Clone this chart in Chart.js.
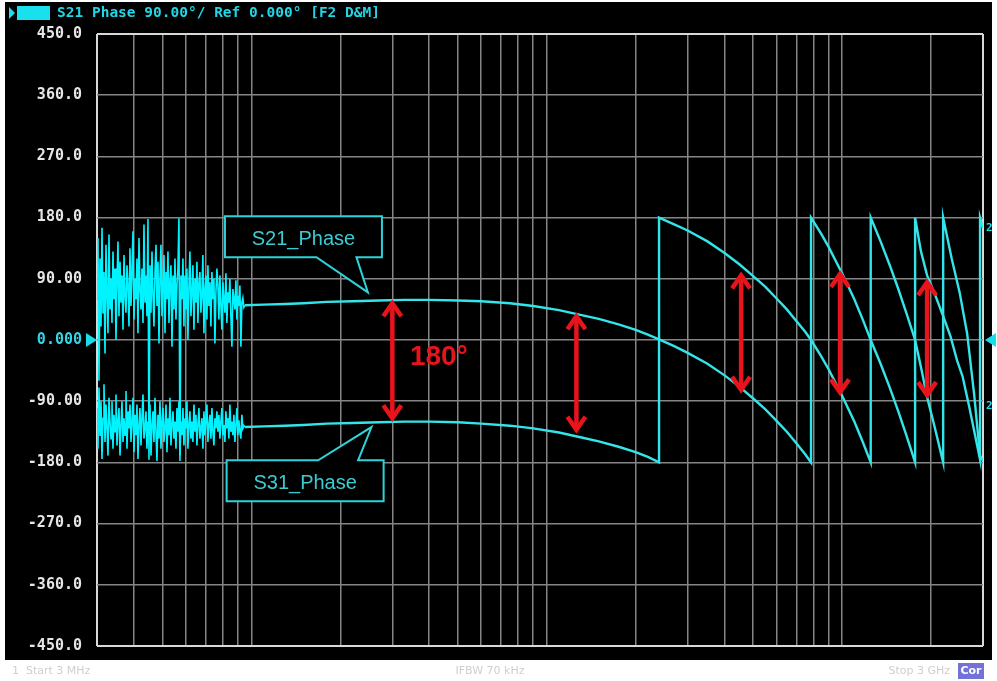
<!DOCTYPE html>
<html><head><meta charset="utf-8">
<script src="https://cdn.jsdelivr.net/npm/chart.js@4.4.1/dist/chart.umd.min.js"></script>
<style>html,body{margin:0;padding:0;background:#fff;overflow:hidden}
#wrap{position:absolute;left:0;top:0;width:997px;height:681px}</style>
</head><body><div id="wrap"><canvas id="c" width="997" height="681"></canvas></div>
<script>
// ---- data (frequency in MHz, phase in degrees) ----
const noiseFreq = [3.000,3.023,3.047,3.071,3.095,3.119,3.144,3.168,3.193,3.218,
  3.243,3.268,3.294,3.320,3.346,3.372,3.398,3.425,3.452,3.479,
  3.506,3.533,3.561,3.589,3.617,3.645,3.674,3.703,3.732,3.761,
  3.790,3.820,3.850,3.880,3.910,3.941,3.972,4.003,4.034,4.066,
  4.097,4.129,4.162,4.194,4.227,4.260,4.294,4.327,4.361,4.395,
  4.429,4.464,4.499,4.534,4.570,4.606,4.642,4.678,4.715,4.752,
  4.788,4.826,4.864,4.902,4.940,4.979,5.018,5.057,5.097,5.137,
  5.176,5.217,5.258,5.299,5.340,5.382,5.424,5.467,5.510,5.553,
  5.595,5.639,5.683,5.728,5.773,5.818,5.863,5.909,5.956,6.002,
  6.048,6.095,6.143,6.191,6.240,6.289,6.338,6.388,6.438,6.488,
  6.538,6.589,6.641,6.693,6.745,6.798,6.851,6.905,6.959,7.013,
  7.068,7.123,7.179,7.235,7.292,7.349,7.407,7.465,7.523,7.582,
  7.640,7.700,7.760,7.821,7.882,7.944,8.006,8.069,8.132,8.196,
  8.259,8.324,8.389,8.455,8.521,8.588,8.655,8.723,8.791,8.860,
  8.928,8.998,9.068,9.139,9.211,9.283,9.355,9.428];
const s21Noise = [60,150,-60,120,20,165,40,100,-20,140,70,10,155,45,
  90,25,130,60,105,0,85,145,35,115,55,95,15,125,65,40,110,80,20,135,
  50,100,160,30,90,60,120,10,150,75,45,105,25,170,55,95,35,
  178,-176,
  110,40,130,65,20,100,140,50,
  115,-5,90,140,35,75,125,10,100,60,130,25,85,110,-10,95,45,120,30,80,105,
  179,-178,95,
  60,120,20,95,45,105,0,80,130,35,70,110,15,90,55,115,25,85,100,40,
  65,125,10,75,95,30,110,50,85,20,100,60,90,-5,70,105,
  80,30,95,50,15,85,60,40,98,25,70,55,90,35,-10,75,60,45,88,30,65,50,80,-10,55,62,48];
const s31Noise = [-100,-160,-70,-140,-90,-175,-115,-65,-150,-95,-130,-170,-85,-120,
  -145,-90,-160,-110,-135,-80,-155,-120,-100,-170,-125,-90,-150,-115,-140,-75,-160,-105,-130,-95,
  -150,-120,-85,-165,-110,-140,-95,-175,-125,-100,-155,-115,-80,-145,-130,-105,-160,
  -120,-140,
  -95,-170,-125,-105,-150,-85,-135,-178,
  -110,-145,-90,-160,-120,-100,-150,-130,-95,-165,-115,-140,-85,-155,-125,-105,-145,-120,-160,-100,-135,
  -90,-170,-120,
  -140,-100,-155,-115,-130,-90,-160,-125,-105,-145,-120,-150,-95,-135,-110,-155,-125,-100,-145,-130,
  -115,-160,-105,-140,-120,-95,-150,-125,-110,-145,-100,-135,-155,-115,-130,-105,
  -135,-110,-145,-120,-100,-140,-125,-150,-105,-130,-115,-145,-95,-135,-120,-140,-110,-150,-125,-100,-140,-118,-135,-145,-110,-130,-126];
const s21Freq = [9.5,11,13,15,18,22,27,33,40,50,60,75,90,110,130,150,175,200,220,240,270,300,350,400,450,500,550,600,650,700,750,785,
  785,850,900,950,1000,1100,1175,1250,1350,1450,1550,1650,1767,
  1767,1850,1940,2050,2200,2330,2450,2560,2700,2820,2932,2932,3000];
const s21Phase = [51,52,53,54,56,57,58,59,59,58,57,54,50,44,37,31,23,15,8,1,-9,-19,-35,-52,-69,-86,-102,-119,-135,-152,-168,-180,
  180,156,137,117,98,60,30,0,-35,-70,-105,-140,-180,
  180,130,95,70,35,5,-30,-54,-100,-140,-176,180,165];
const s31Freq = [9.5,11,13,15,18,22,27,33,40,50,60,75,90,110,130,150,175,200,220,240,
  240,270,300,350,400,450,500,550,600,650,700,750,785,850,900,950,1000,1100,1175,1250,
  1250,1350,1450,1550,1650,1767,1850,1940,2050,2199,
  2199,2350,2500,2650,2800,2932,3000];
const s31Phase = [-128,-127,-126,-125,-123,-122,-121,-120,-120,-121,-123,-126,-130,-136,-143,-149,-157,-165,-172,-180,
  180,170,161,145,128,111,94,78,61,45,28,12,0,-24,-43,-63,-82,-120,-150,-180,
  180,145,110,75,40,0,-40,-84,-125,-180,
  180,120,70,10,-80,-170,-178];
const xGridFreqs = [3,4,5,6,7,8,9,10,20,30,40,50,60,70,80,90,100,200,300,400,500,600,700,800,900,1000,2000,3000];
const yTickValues = [-450,-360,-270,-180,-90,0,90,180,270,360,450];
const yTickLabels = ['-450.0','-360.0','-270.0','-180.0','-90.00','0.000','90.00','180.0','270.0','360.0','450.0'];
const arrowFreqs = [30,126,455,984,1940];
const arrowTops = [57,38,98,100,88];
const arrowBottoms = [-118,-135,-76,-80,-84];
const headerText = 'S21 Phase 90.00°/ Ref 0.000° [F2 D&M]';
const calloutLabels = ['S21_Phase','S31_Phase'];
const calloutBoxFreq = [15,15.2];
const calloutBoxPhase = [152,-207];
const calloutTipFreq = [24.8,25.5];
const calloutTipPhase = [70,-128];
const diffLabel = '180°';
const footerTexts = ['1  Start 3 MHz','IFBW 70 kHz','Stop 3 GHz','Cor'];

const CYAN = '#33e4e8';
const toPts = (xs, ys) => xs.map((x, i) => ({x: x, y: ys[i]}));

const deco = {
  id: 'deco',
  beforeDraw(chart) {
    const c = chart.ctx;
    c.save();
    c.fillStyle = '#ffffff'; c.fillRect(0, 0, 997, 681);
    c.fillStyle = '#000000'; c.fillRect(5, 2, 987, 658);
    // header
    c.fillStyle = '#19e0ec';
    c.beginPath(); c.moveTo(9, 7); c.lineTo(9, 19); c.lineTo(15, 13); c.closePath(); c.fill();
    c.fillRect(17, 6, 33, 14);
    c.font = 'bold 14.5px "DejaVu Sans Mono"';
    c.textBaseline = 'middle'; c.textAlign = 'left';
    c.fillStyle = '#22d6e6';
    c.fillText(headerText, 57, 13);
    // footer
    c.font = '11px "DejaVu Sans"';
    c.fillStyle = '#cfcfcf';
    c.textAlign = 'left'; c.fillText(footerTexts[0], 12, 671);
    c.textAlign = 'center'; c.fillText(footerTexts[1], 490, 671);
    c.textAlign = 'right'; c.fillText(footerTexts[2], 950, 671);
    c.fillStyle = '#7272d8'; c.fillRect(958, 663, 26, 16);
    c.fillStyle = '#ffffff'; c.textAlign = 'center'; c.font = 'bold 11px "DejaVu Sans"';
    c.fillText(footerTexts[3], 971, 671);
    c.restore();
  },
  afterDatasetsDraw(chart) {
    const c = chart.ctx, xs = chart.scales.x, ys = chart.scales.y, ca = chart.chartArea;
    c.save();
    // reference markers
    const y0 = ys.getPixelForValue(0);
    c.fillStyle = '#19dcea';
    c.beginPath(); c.moveTo(ca.left - 11, y0 - 7); c.lineTo(ca.left - 11, y0 + 7); c.lineTo(ca.left, y0); c.closePath(); c.fill();
    c.beginPath(); c.moveTo(ca.right + 13, y0 - 7); c.lineTo(ca.right + 13, y0 + 7); c.lineTo(ca.right + 2, y0); c.closePath(); c.fill();
    c.font = 'bold 11px "DejaVu Sans Mono"'; c.textAlign = 'left'; c.textBaseline = 'middle';
    c.fillText('2', ca.right + 3, ys.getPixelForValue(165));
    c.fillText('2', ca.right + 3, ys.getPixelForValue(-97));
    // callouts
    for (let i = 0; i < calloutLabels.length; i++) {
      const cx = xs.getPixelForValue(calloutBoxFreq[i]), cy = ys.getPixelForValue(calloutBoxPhase[i]);
      const w = 157, h = 41, l = cx - w / 2, t = cy - h / 2;
      const tx = xs.getPixelForValue(calloutTipFreq[i]), ty = ys.getPixelForValue(calloutTipPhase[i]);
      c.beginPath();
      if (ty > cy) {
        c.moveTo(l, t); c.lineTo(l + w, t); c.lineTo(l + w, t + h);
        c.lineTo(cx + 53, t + h); c.lineTo(tx, ty); c.lineTo(cx + 13, t + h);
        c.lineTo(l, t + h); c.closePath();
      } else {
        c.moveTo(l, t + h); c.lineTo(l + w, t + h); c.lineTo(l + w, t);
        c.lineTo(cx + 53, t); c.lineTo(tx, ty); c.lineTo(cx + 13, t);
        c.lineTo(l, t); c.closePath();
      }
      c.fillStyle = '#000'; c.fill();
      c.strokeStyle = '#2ed3da'; c.lineWidth = 2; c.lineJoin = 'miter'; c.stroke();
      c.fillStyle = '#3ccbd3'; c.font = '20px "Liberation Sans"';
      c.textAlign = 'center'; c.textBaseline = 'middle';
      c.fillText(calloutLabels[i], cx, cy + 3);
    }
    // red arrows
    c.strokeStyle = '#e8141c'; c.lineWidth = 4.5; c.lineCap = 'butt'; c.lineJoin = 'miter';
    for (let i = 0; i < arrowFreqs.length; i++) {
      const x = xs.getPixelForValue(arrowFreqs[i]);
      const y1 = ys.getPixelForValue(arrowTops[i]), y2 = ys.getPixelForValue(arrowBottoms[i]);
      c.beginPath(); c.moveTo(x, y1 + 3); c.lineTo(x, y2 - 3); c.stroke();
      c.beginPath(); c.moveTo(x - 9, y1 + 15); c.lineTo(x, y1 + 2); c.lineTo(x + 9, y1 + 15); c.stroke();
      c.beginPath(); c.moveTo(x - 9, y2 - 15); c.lineTo(x, y2 - 2); c.lineTo(x + 9, y2 - 15); c.stroke();
    }
    c.fillStyle = '#e8141c'; c.font = 'bold 28px "Liberation Sans"';
    c.textAlign = 'left'; c.textBaseline = 'middle';
    c.fillText(diffLabel, xs.getPixelForValue(34.4), ys.getPixelForValue(-25));
    c.restore();
  }
};

const segStyle = {
  borderColor: ctx => ctx.p0.parsed.x < 9.45 ? '#00f4ff' : CYAN,
  borderWidth: ctx => ctx.p0.parsed.x < 9.45 ? 1.6 : 2.4
};

new Chart(document.getElementById('c'), {
  type: 'line',
  data: {
    datasets: [
      {label: 'S21_Phase', data: toPts(noiseFreq.concat(s21Freq), s21Noise.concat(s21Phase)), borderColor: CYAN, borderWidth: 2, pointRadius: 0, tension: 0, segment: segStyle},
      {label: 'S31_Phase', data: toPts(noiseFreq.concat(s31Freq), s31Noise.concat(s31Phase)), borderColor: CYAN, borderWidth: 2, pointRadius: 0, tension: 0, segment: segStyle}
    ]
  },
  options: {
    responsive: false, animation: false, devicePixelRatio: 1,
    layout: {padding: {left: 6, right: 14, top: 34, bottom: 35}},
    plugins: {legend: {display: false}, tooltip: {enabled: false}},
    scales: {
      x: {
        type: 'logarithmic', min: 3, max: 3000,
        afterBuildTicks: s => { s.ticks = xGridFreqs.map(v => ({value: v})); },
        afterFit: s => { s.height = 0; },
        ticks: {display: false},
        border: {display: false},
        grid: {drawTicks: false,
          color: ctx => (ctx.tick && (ctx.tick.value === 3 || ctx.tick.value === 3000)) ? '#d8d8d8' : '#858585',
          lineWidth: ctx => (ctx.tick && (ctx.tick.value === 3 || ctx.tick.value === 3000)) ? 2 : 1.5}
      },
      y: {
        type: 'linear', min: -450, max: 450,
        afterBuildTicks: s => { s.ticks = yTickValues.map(v => ({value: v})); },
        afterFit: s => { s.width = 91; },
        border: {display: false},
        ticks: {
          padding: 15,
          font: {family: 'DejaVu Sans Mono', size: 15, weight: 'bold'},
          color: ctx => ctx.tick.value === 0 ? '#2fd6e6' : '#e6e6e6',
          callback: v => { const i = yTickValues.indexOf(v); return i >= 0 ? yTickLabels[i] : ''; }
        },
        grid: {drawTicks: false,
          color: ctx => (ctx.tick && Math.abs(ctx.tick.value) === 450) ? '#d8d8d8' : '#858585',
          lineWidth: ctx => (ctx.tick && Math.abs(ctx.tick.value) === 450) ? 2 : 1.5}
      }
    }
  },
  plugins: [deco]
});
</script></body></html>
